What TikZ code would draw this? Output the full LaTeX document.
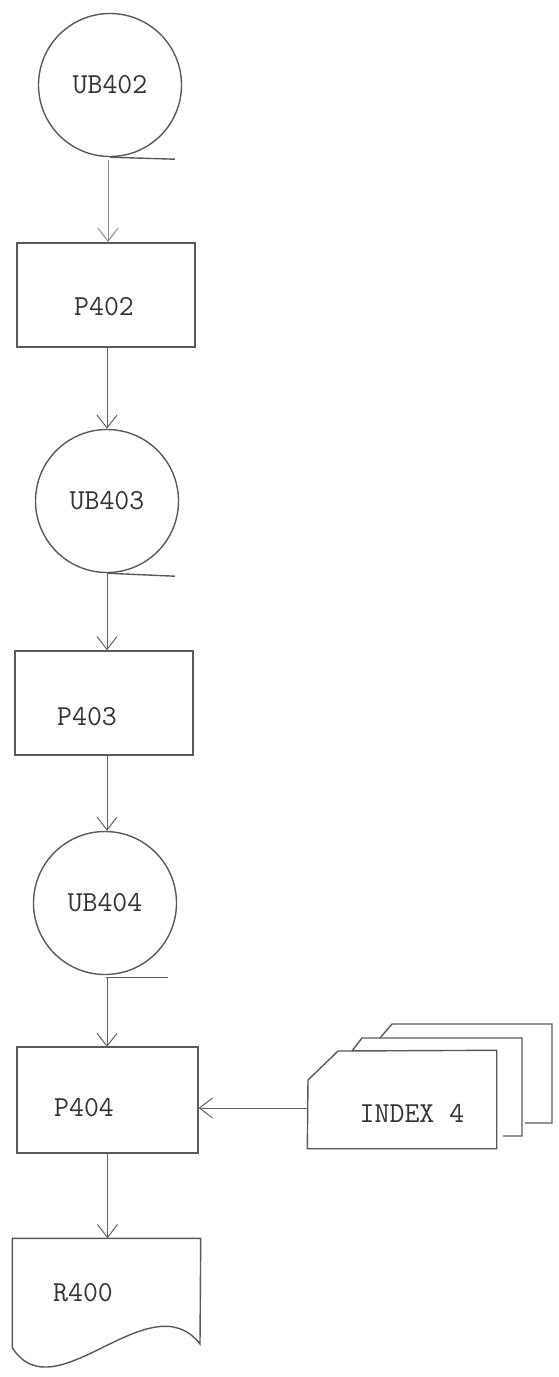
\documentclass[tikz,border=0pt]{standalone}
\usetikzlibrary{arrows.meta}
\begin{document}
\begin{tikzpicture}[x=1pt, y=-1pt, line width=1.4pt,
  ink/.style={draw=black!65},
  lbl/.style={font=\fontsize{29}{29}\selectfont\ttfamily, text=black!80, inner sep=0pt},
  tapedisk/.style={circle, ink, minimum size=143pt, inner sep=0pt, lbl},
  procbox/.style={rectangle, ink, minimum width=178pt, minimum height=104pt},
  flow/.style={draw=black!62, line width=1pt, -{Straight Barb[length=13pt,width=20pt]}}]
  \useasboundingbox (0,0) rectangle (558,1377);
  % magnetic tapes and runs down the page
  \node[tapedisk] (ub402) at (110,85) {UB402};
  \node[procbox] (p402) at (106,295) {};
  \node[lbl] (p402t) at (104,307) {P402};
  \node[tapedisk] (ub403) at (107,501) {UB403};
  \node[procbox] (p403) at (104,703) {};
  \node[lbl] (p403t) at (87,717) {P403};
  \node[tapedisk] (ub404) at (105,903) {UB404};
  \node[procbox, minimum width=181pt, minimum height=106pt] (p404) at (107.5,1100) {};
  \node[lbl] (p404t) at (84,1108) {P404};
  % report
  \node[minimum width=187pt, minimum height=108pt, inner sep=0pt] (r400) at (106.5,1293) {};
  \node[lbl] (r400t) at (83,1293) {R400};
  \draw[ink] (r400.south west) -- (r400.north west) -- (r400.north east) -- (200,1344)
    .. controls (150,1280) and (55,1415) .. (r400.south west);
  % card deck
  \node[minimum width=188pt, minimum height=97pt, inner sep=0pt] (index4) at (402,1099.5) {};
  \node[lbl] (index4t) at (412,1113) {INDEX 4};
  \draw[ink] (index4.south west) -- (308,1080) -- (338,1051) -- (index4.north east)
    -- (index4.south east) -- cycle;
  \draw[ink] (352,1051) -- (362,1038) -- (522,1038) -- (522,1136) -- (503,1136);
  \draw[ink] (380,1038) -- (392,1024) -- (552,1024) -- (552,1123) -- (525,1123);
  % tape marks
  \draw[ink] (ub402.south) -- ++(65,2);
  \draw[ink] (ub403.south) -- ++(68,3);
  \draw[ink] (ub404.south) ++(1,2) -- ++(62,0);
  % flow
  \draw[flow, draw=black!45] (ub402.south) ++(-2,3) -- (108,242);
  \draw[flow] (p402.south -| ub403.north) -- (ub403.north);
  \draw[flow] (ub403.south) -- (ub403.south |- p403.north);
  \draw[flow] (p403.south -| ub404.north) ++(2,0) -- ([xshift=2]ub404.north);
  \draw[flow] (ub404.south) ++(2,2) -- (107,1047);
  \draw[flow] (index4.west |- p404t) -- (p404.east |- p404t);
  \draw[flow] (p404.south) -- (p404.south |- r400.north);
\end{tikzpicture}
\end{document}
